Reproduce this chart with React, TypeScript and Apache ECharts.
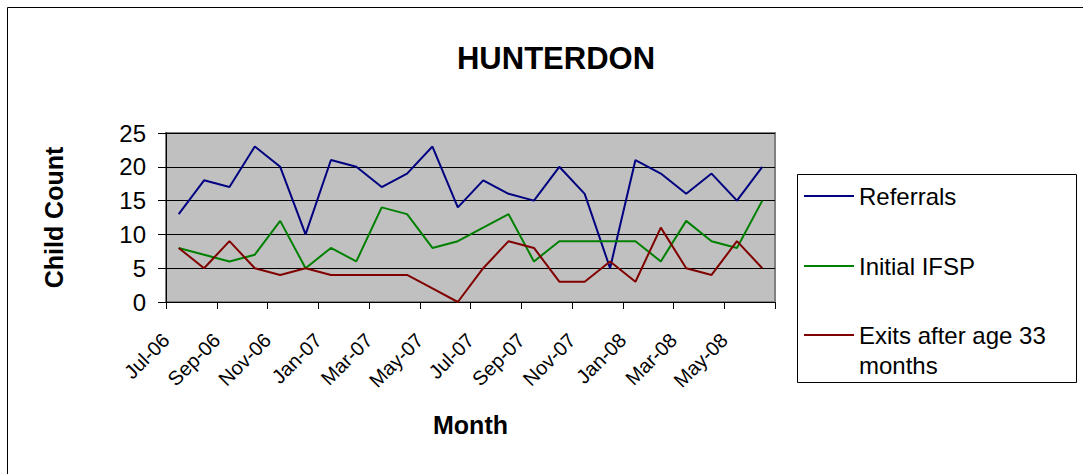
import React, { useEffect, useRef } from "react";
import * as echarts from "echarts";

const months = [
  "Jul-06", "Aug-06", "Sep-06", "Oct-06", "Nov-06", "Dec-06",
  "Jan-07", "Feb-07", "Mar-07", "Apr-07", "May-07", "Jun-07",
  "Jul-07", "Aug-07", "Sep-07", "Oct-07", "Nov-07", "Dec-07",
  "Jan-08", "Feb-08", "Mar-08", "Apr-08", "May-08", "Jun-08",
];
const referrals = [13, 18, 17, 23, 20, 10, 21, 20, 17, 19, 23, 14, 18, 16, 15, 20, 16, 5, 21, 19, 16, 19, 15, 20];
const initialIFSP = [8, 7, 6, 7, 12, 5, 8, 6, 14, 13, 8, 9, 11, 13, 6, 9, 9, 9, 9, 6, 12, 9, 8, 15];
const exits = [8, 5, 9, 5, 4, 5, 4, 4, 4, 4, 2, 0, 5, 9, 8, 3, 3, 6, 3, 11, 5, 4, 9, 5];

const seriesNames = ["Referrals", "Initial IFSP", "Exits after age 33\nmonths"];
const seriesColors = ["#000080", "#008000", "#800000"];

const FONT = "Liberation Sans, Arial, sans-serif";

export default function App() {
  const ref = useRef<HTMLDivElement>(null);
  useEffect(() => {
    document.body.style.margin = "0";
    const chart = echarts.init(ref.current!, null, { renderer: "svg" });
    const mk = (name: string, data: number[], color: string) => ({
      name,
      type: "line",
      data,
      symbol: "none",
      lineStyle: { color, width: 2 },
      itemStyle: { color },
    });
    const legendText = { fontFamily: FONT, fontSize: 24, color: "#000", lineHeight: 30 };
    const legendBase = {
      orient: "vertical",
      left: 804,
      padding: 0,
      itemWidth: 50,
      itemHeight: 2,
      itemGap: 0,
      icon: "rect",
      selectedMode: false,
      textStyle: legendText,
    };
    chart.setOption({
      animation: false,
      backgroundColor: "#ffffff",
      textStyle: { fontFamily: FONT },
      title: {
        text: "HUNTERDON",
        left: 551,
        top: 38,
        textAlign: "center",
        textStyle: { fontFamily: FONT, fontSize: 31, fontWeight: "bold", color: "#000" },
      },
      grid: {
        left: 166,
        top: 133,
        width: 609,
        height: 169,
        show: true,
        backgroundColor: "#C0C0C0",
        borderColor: "#808080",
        borderWidth: 2,
        containLabel: false,
      },
      legend: [
        { ...legendBase, top: 181, data: [{ name: seriesNames[0] }] },
        { ...legendBase, top: 251, data: [{ name: seriesNames[1] }] },
        {
          ...legendBase,
          top: 290,
          formatter: (name: string) => " \n" + name,
          data: [{ name: seriesNames[2] }],
        },
      ],
      xAxis: {
        type: "category",
        data: months,
        boundaryGap: true,
        name: "Month",
        nameLocation: "middle",
        nameGap: 110,
        nameTextStyle: { fontFamily: FONT, fontSize: 25, fontWeight: "bold", color: "#000" },
        axisLine: { show: true, lineStyle: { color: "#000", width: 1 } },
        axisTick: { show: true, interval: 1, length: 7, lineStyle: { color: "#000" } },
        axisLabel: {
          interval: 1,
          rotate: 45,
          margin: 22,
          padding: [0, 18, 0, 0],
          fontFamily: FONT,
          fontSize: 20,
          color: "#000",
        },
        splitLine: { show: false },
      },
      yAxis: {
        type: "value",
        min: 0,
        max: 25,
        interval: 5,
        name: "Child Count",
        nameLocation: "middle",
        nameGap: 100,
        nameRotate: 90,
        nameTextStyle: { fontFamily: FONT, fontSize: 25, fontWeight: "bold", color: "#000" },
        axisLine: { show: true, lineStyle: { color: "#000", width: 1 } },
        axisTick: { show: true, inside: false, length: 8, lineStyle: { color: "#000" } },
        axisLabel: { fontFamily: FONT, fontSize: 24, color: "#000", margin: 20 },
        splitLine: { show: true, lineStyle: { color: "#000", width: 1 } },
      },
      graphic: [
        {
          type: "rect",
          shape: { x: 7.5, y: 7.5, width: 1200, height: 600 },
          style: { fill: "none", stroke: "#000", lineWidth: 1 },
          silent: true,
        },
        {
          type: "rect",
          shape: { x: 797.5, y: 174.5, width: 279, height: 208 },
          style: { fill: "#fff", stroke: "#000", lineWidth: 1 },
          silent: true,
          z: -1,
        },
      ],
      series: [
        mk(seriesNames[0], referrals, seriesColors[0]),
        mk(seriesNames[1], initialIFSP, seriesColors[1]),
        mk(seriesNames[2], exits, seriesColors[2]),
      ],
    });
    return () => chart.dispose();
  }, []);
  return <div ref={ref} style={{ width: 1083, height: 474 }} />;
}
